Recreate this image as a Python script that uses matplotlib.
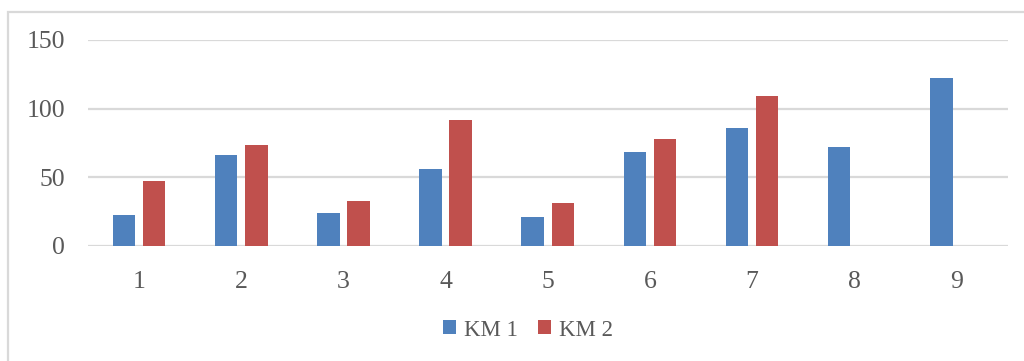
import matplotlib
matplotlib.use("Agg")
from matplotlib import pyplot as plt
from matplotlib.patches import Rectangle
import numpy

categories = ["1", "2", "3", "4", "5", "6", "7", "8", "9"]
km1 = [22.5, 66.5, 24, 56, 21, 68, 85.5, 72, 122]
km2 = [47.5, 73.5, 32.5, 91.5, 31, 78, 109, 0, 0]
yticks = [0, 50, 100, 150]

blue = "#4F81BD"
red = "#C0504D"
grid = "#D9D9D9"
textcol = "#595959"

plt.rcParams["font.family"] = ["Liberation Serif", "DejaVu Serif"]

fig = plt.figure(figsize=(10.24, 3.61), dpi=100)
ax = fig.add_axes([88 / 1024, 1 - 245.7 / 361, (1007.5 - 88) / 1024, (245.7 - 40) / 361])

x = numpy.arange(len(categories))
w = 0.22
off = 0.148
ax.bar(x - off, km1, width=w, color=blue, label="KM 1", zorder=3)
ax.bar(x + off, km2, width=w, color=red, label="KM 2", zorder=3)

ax.set_xlim(-0.5, len(categories) - 0.5)
ax.set_ylim(0, 150)
ax.set_yticks(yticks)
ax.set_xticks(x)
ax.set_xticklabels(categories)
ax.yaxis.grid(True, color=grid, linewidth=1.6, zorder=0)
ax.set_axisbelow(True)
for s in ax.spines.values():
    s.set_visible(False)
ax.tick_params(length=0, labelsize=18.5, colors=textcol)
ax.tick_params(axis="y", pad=16.5)
ax.tick_params(axis="x", pad=18)

leg = fig.legend(loc="center", bbox_to_anchor=(528 / 1024, 1 - 330 / 361), ncol=2,
                 frameon=False, fontsize=16.5, handlelength=0.55, handleheight=0.55,
                 handletextpad=0.35, columnspacing=0.9)
for t in leg.get_texts():
    t.set_color(textcol)

# chart frame
fig.patches.append(Rectangle((8 / 1024, -0.1), 1.2, 1 - 12 / 361 + 0.1,
                             transform=fig.transFigure, fill=False,
                             edgecolor=grid, linewidth=1.6))

fig.savefig("out.png", dpi=100)
